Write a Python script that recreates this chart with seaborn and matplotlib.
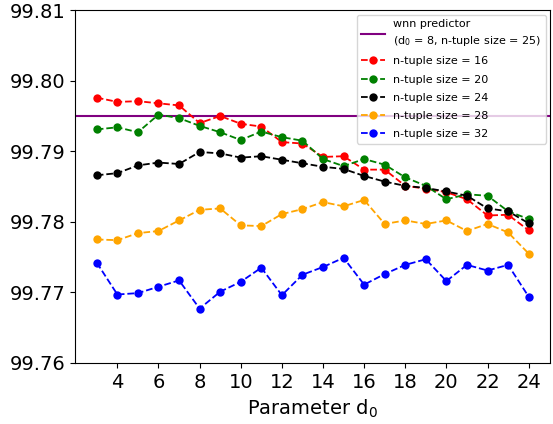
import matplotlib
matplotlib.use("Agg")
import matplotlib.pyplot as plt
import seaborn as sns
import numpy as np
from matplotlib.ticker import FormatStrFormatter

d0 = list(range(3, 25))

size16 = [99.7976, 99.7970, 99.7971, 99.7968, 99.7965, 99.7940, 99.7950, 99.7939,
          99.7935, 99.7913, 99.7911, 99.7892, 99.7893, 99.7874, 99.7874, 99.7851,
          99.7847, 99.7842, 99.7832, 99.7809, 99.7810, 99.7788]
size20 = [99.7931, 99.7934, 99.7927, 99.7952, 99.7947, 99.7936, 99.7927, 99.7916,
          99.7928, 99.7920, 99.7915, 99.7889, 99.7879, 99.7889, 99.7881, 99.7863,
          99.7851, 99.7832, 99.7839, 99.7837, 99.7815, 99.7804]
size24 = [99.7866, 99.7869, 99.7880, 99.7884, 99.7882, 99.7899, 99.7897, 99.7891,
          99.7893, 99.7888, 99.7883, 99.7878, 99.7875, 99.7865, 99.7857, 99.7851,
          99.7848, 99.7843, 99.7837, 99.7819, 99.7815, 99.7798]
size28 = [99.7775, 99.7774, 99.7784, 99.7787, 99.7802, 99.7817, 99.7819, 99.7795,
          99.7794, 99.7811, 99.7818, 99.7828, 99.7822, 99.7831, 99.7797, 99.7802,
          99.7797, 99.7802, 99.7787, 99.7797, 99.7785, 99.7755]
size32 = [99.7742, 99.7697, 99.7699, 99.7708, 99.7717, 99.7677, 99.7701, 99.7715,
          99.7735, 99.7696, 99.7725, 99.7736, 99.7749, 99.7711, 99.7726, 99.7739,
          99.7747, 99.7716, 99.7739, 99.7731, 99.7739, 99.7694]
wnn_value = 99.7950

series = [
    ("n-tuple size = 16", size16, "red"),
    ("n-tuple size = 20", size20, "green"),
    ("n-tuple size = 24", size24, "black"),
    ("n-tuple size = 28", size28, "orange"),
    ("n-tuple size = 32", size32, "blue"),
]

fig = plt.figure(figsize=(5.53, 4.24), dpi=100)
ax = fig.add_axes([0.136, 0.144, 0.859, 0.832])

ax.axhline(wnn_value, color="purple", lw=1.5,
           label="wnn predictor\n(d$_0$ = 8, n-tuple size = 25)")
for label, vals, col in series:
    sns.lineplot(x=d0, y=vals, ax=ax, color=col, marker="o", linestyle="--",
                 markersize=6, markeredgewidth=0, lw=1.3, label=label)

ax.set_ylim(99.76, 99.81)
ax.set_yticks([99.76, 99.77, 99.78, 99.79, 99.80, 99.81])
ax.yaxis.set_major_formatter(FormatStrFormatter('%.2f'))
ax.set_xticks(list(range(4, 25, 2)))
ax.set_xlim(1.95, 25.05)
ax.tick_params(labelsize=14)
ax.set_xlabel("Parameter d$_0$", fontsize=14)
ax.set_ylabel("")
leg = ax.legend(loc="upper right", fontsize=8, handlelength=2.1,
                labelspacing=0.74, borderaxespad=0.4)
for t in leg.get_texts():
    t.set_linespacing(1.5)

fig.savefig("out.png", dpi=100)
